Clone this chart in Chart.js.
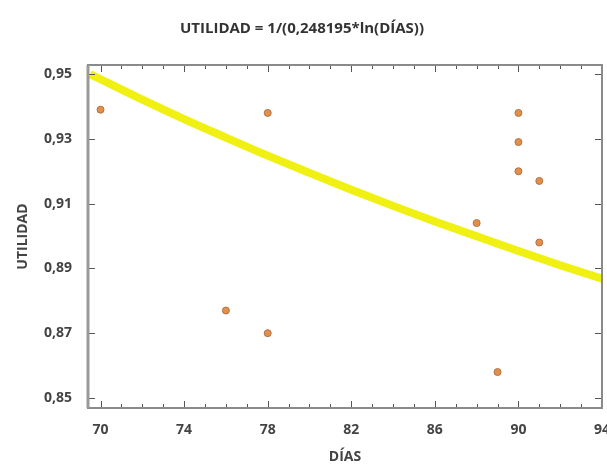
<!DOCTYPE html>
<html>
<head>
<meta charset="utf-8">
<script src="https://cdn.jsdelivr.net/npm/chart.js@4"></script>
<style>
  html, body { margin: 0; padding: 0; background: #fff; }
  #wrap { width: 607px; height: 469px; }
</style>
</head>
<body>
<div id="wrap"><canvas id="chart" width="607" height="469"></canvas></div>
<script>
// observed points (DÍAS, UTILIDAD)
const dias     = [70, 76, 78, 78, 88, 89, 90, 90, 90, 91, 91];
const utilidad = [0.939, 0.877, 0.938, 0.870, 0.904, 0.858, 0.938, 0.929, 0.920, 0.917, 0.898];

// fitted curve
const curveX = [69.5, 70, 72, 74, 76, 78, 80, 82, 84, 86, 88, 90, 92, 94];
const curveY = [0.9500, 0.9484, 0.9421, 0.9361, 0.9304, 0.9248, 0.9195, 0.9143, 0.9093, 0.9045, 0.8999, 0.8954, 0.8910, 0.8868];

const xTicks = [70, 74, 78, 82, 86, 90, 94];
const yTicks = [0.85, 0.87, 0.89, 0.91, 0.93, 0.95];

const labelFont = { family: 'Open Sans, DejaVu Sans, sans-serif', size: 14, weight: 'bold' };

// frame + inward ticks like the statgraphics plot
const framePlugin = {
  id: 'frame',
  afterDraw(chart) {
    const { ctx, chartArea: a, scales: { x, y } } = chart;
    ctx.save();
    ctx.strokeStyle = '#555';
    ctx.lineWidth = 1;
    // minor + major x ticks, top and bottom
    for (let v = 70; v <= 94; v++) {
      const px = Math.round(x.getPixelForValue(v)) + 0.5;
      const len = (v - 70) % 4 === 0 ? 7 : 4;
      ctx.beginPath();
      ctx.moveTo(px, a.bottom); ctx.lineTo(px, a.bottom - len);
      ctx.moveTo(px, a.top); ctx.lineTo(px, a.top + len);
      ctx.stroke();
    }
    yTicks.forEach(v => {
      const py = Math.round(y.getPixelForValue(v)) + 0.5;
      ctx.beginPath();
      ctx.moveTo(a.left, py); ctx.lineTo(a.left + 7, py);
      ctx.moveTo(a.right, py); ctx.lineTo(a.right - 7, py);
      ctx.stroke();
    });
    ctx.strokeStyle = '#8a8a8a';
    ctx.lineWidth = 2;
    ctx.strokeRect(a.left, a.top, a.right - a.left, a.bottom - a.top);
    ctx.strokeStyle = '#999';
    ctx.lineWidth = 3;
    ctx.beginPath();
    ctx.moveTo(a.left, a.top); ctx.lineTo(a.left, a.bottom);
    ctx.stroke();
    ctx.restore();
  }
};

new Chart(document.getElementById('chart'), {
  type: 'scatter',
  data: {
    datasets: [{
      type: 'line',
      label: 'Modelo',
      data: curveX.map((v, i) => ({ x: v, y: curveY[i] })),
      borderColor: '#f0f012',
      borderWidth: 8,
      pointRadius: 0,
      cubicInterpolationMode: 'monotone',
      fill: false
    }, {
      label: 'Datos',
      data: dias.map((v, i) => ({ x: v, y: utilidad[i] })),
      backgroundColor: '#e0904a',
      borderColor: '#b37245',
      borderWidth: 1,
      pointRadius: 3.5
    }]
  },
  options: {
    responsive: false,
    animation: false,
    layout: { padding: { left: 0, right: 3, top: 0, bottom: 0 } },
    plugins: {
      legend: { display: false },
      tooltip: { enabled: false },
      title: {
        display: true,
        text: 'UTILIDAD = 1/(0,248195*ln(DÍAS))',
        color: '#333',
        font: { family: 'Open Sans, DejaVu Sans, sans-serif', size: 15, weight: 'bold' },
        padding: { top: 20, bottom: 27 }
      }
    },
    scales: {
      x: {
        type: 'linear',
        min: 69.4,
        max: 94,
        afterBuildTicks: s => { s.ticks = xTicks.map(v => ({ value: v })); },
        afterFit: s => { s.height = 61; s.paddingRight = 0; s.paddingLeft = 0; },
        grid: { display: false },
        border: { display: false },
        ticks: { color: '#444', font: labelFont, padding: 6 },
        title: { display: true, text: 'DÍAS', color: '#444', font: labelFont, padding: { top: 0 } }
      },
      y: {
        min: 0.8469,
        max: 0.9528,
        afterBuildTicks: s => { s.ticks = yTicks.map(v => ({ value: v })); },
        afterFit: s => { s.width = 88; s.paddingTop = 0; s.paddingBottom = 0; },
        grid: { display: false },
        border: { display: false },
        ticks: {
          color: '#444', font: labelFont, padding: 8,
          callback: v => v.toFixed(2).replace('.', ',')
        },
        title: { display: true, text: 'UTILIDAD', color: '#444', font: labelFont, padding: { top: 15, bottom: 4 } }
      }
    }
  },
  plugins: [framePlugin]
});
</script>
</body>
</html>
